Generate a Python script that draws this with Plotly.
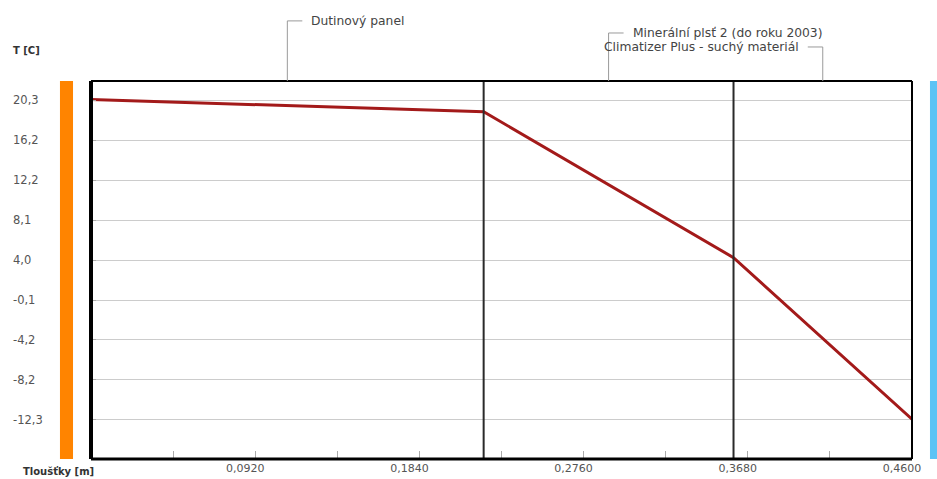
import plotly.graph_objects as go

# ---- data ----
thickness_m = [0.0, 0.22, 0.36, 0.46]
temperature_c = [20.4, 19.15, 4.25, -12.25]

layer_names = ["Dutinový panel", "Minerální plsť 2 (do roku 2003)", "Climatizer Plus - suchý materiál"]
layer_bounds = [0.0, 0.22, 0.36, 0.46]

y_grid_vals = [20.3, 16.225, 12.15, 8.075, 4.0, -0.075, -4.15, -8.225, -12.3]
y_grid_labels = ["20,3", "16,2", "12,2", "8,1", "4,0", "-0,1", "-4,2", "-8,2", "-12,3"]

x_tick_vals = [0.046, 0.092, 0.138, 0.184, 0.230, 0.276, 0.322, 0.368, 0.414, 0.460]
x_tick_labels = ["", "0,0920", "", "0,1840", "", "0,2760", "", "0,3680", "", "0,4600"]

FONT = "DejaVu Sans"
TXT = "#555555"

fig = go.Figure()
fig.add_trace(go.Scatter(
    x=thickness_m, y=temperature_c, mode="lines",
    line=dict(color="#a31a1a", width=3), cliponaxis=False, hoverinfo="skip",
))

shapes = []
# layer boundaries
for b in layer_bounds[1:-1]:
    shapes.append(dict(type="line", xref="x", yref="paper", x0=b, x1=b, y0=0, y1=1,
                       line=dict(color="#2a2a2a", width=2), layer="above"))
# frame
shapes += [
    dict(type="line", xref="paper", yref="paper", x0=0, x1=0, y0=0, y1=1, line=dict(color="black", width=4), layer="above"),
    dict(type="line", xref="paper", yref="paper", x0=0, x1=1, y0=0, y1=0, line=dict(color="black", width=3), layer="above"),
    dict(type="line", xref="paper", yref="paper", x0=0, x1=1, y0=1, y1=1, line=dict(color="black", width=2), layer="above"),
    dict(type="line", xref="paper", yref="paper", x0=1, x1=1, y0=0, y1=1, line=dict(color="black", width=2), layer="above"),
]
# side bars (interior / exterior)
shapes.append(dict(type="rect", xref="paper", yref="paper", x0=-0.0378, x1=-0.0219, y0=0, y1=1,
                   fillcolor="#ff8400", line=dict(width=0)))
shapes.append(dict(type="rect", xref="paper", yref="paper", x0=1.0219, x1=1.04, y0=0, y1=1,
                   fillcolor="#5cc3f5", line=dict(width=0)))

# layer label brackets
centers = [(layer_bounds[i] + layer_bounds[i + 1]) / 2 for i in range(3)]
bracket_y = [1.159, 1.127, 1.09]
bracket_dir = [1, 1, -1]
annotations = []
for i, (c, name) in enumerate(zip(centers, layer_names)):
    yb = bracket_y[i]
    shapes.append(dict(type="line", xref="x", yref="paper", x0=c, x1=c, y0=1, y1=yb,
                       line=dict(color="#9a9a9a", width=1)))
    d = bracket_dir[i]
    shapes.append(dict(type="line", xref="x", yref="paper", x0=c, x1=c + d * 0.0084, y0=yb, y1=yb,
                       line=dict(color="#9a9a9a", width=1)))
    annotations.append(dict(
        x=c, y=yb, xref="x", yref="paper", text=name, showarrow=False,
        xanchor="left" if d > 0 else "right", yanchor="middle",
        xshift=22 * d, font=dict(family=FONT, size=12.3, color="#444444"),
    ))

# y labels
for v, t in zip(y_grid_vals, y_grid_labels):
    annotations.append(dict(x=0, y=v, xref="paper", yref="y", text=t, showarrow=False,
                            xanchor="left", yanchor="middle", xshift=-80,
                            font=dict(family=FONT, size=11.5, color=TXT)))

annotations.append(dict(x=0, y=1, xref="paper", yref="paper", text="<b>T [C]</b>", showarrow=False,
                        xanchor="left", yanchor="middle", xshift=-80, yshift=31,
                        font=dict(family=FONT, size=10, color="#333333")))
annotations.append(dict(x=0, y=0, xref="paper", yref="paper", text="<b>Tloušťky [m]</b>", showarrow=False,
                        xanchor="left", yanchor="middle", xshift=-70, yshift=-12,
                        font=dict(family=FONT, size=10, color="#333333")))

fig.update_layout(
    template="none",
    width=937, height=479,
    margin=dict(l=91, r=25, t=81, b=20, autoexpand=False),
    paper_bgcolor="white", plot_bgcolor="white",
    showlegend=False,
    shapes=shapes, annotations=annotations,
    xaxis=dict(range=[0, 0.46], tickvals=x_tick_vals, ticktext=x_tick_labels,
               ticks="inside", ticklen=8, tickcolor="#aaaaaa", tickwidth=1,
               showgrid=False, zeroline=False, showline=False, automargin=False,
               ticklabelshift=-10, ticklabelstandoff=1,
               tickfont=dict(family=FONT, size=11, color=TXT)),
    yaxis=dict(range=[-16.31, 22.29], tickvals=y_grid_vals, showticklabels=False,
               ticks="inside", ticklen=5, tickcolor="#aaaaaa", automargin=False,
               showgrid=True, gridcolor="#cccccc", gridwidth=1,
               zeroline=False, showline=False),
)

fig.write_html(
    "out.html",
    config={"displayModeBar": False},
    post_script="document.body.style.margin='0';document.body.style.overflow='hidden';",
)
